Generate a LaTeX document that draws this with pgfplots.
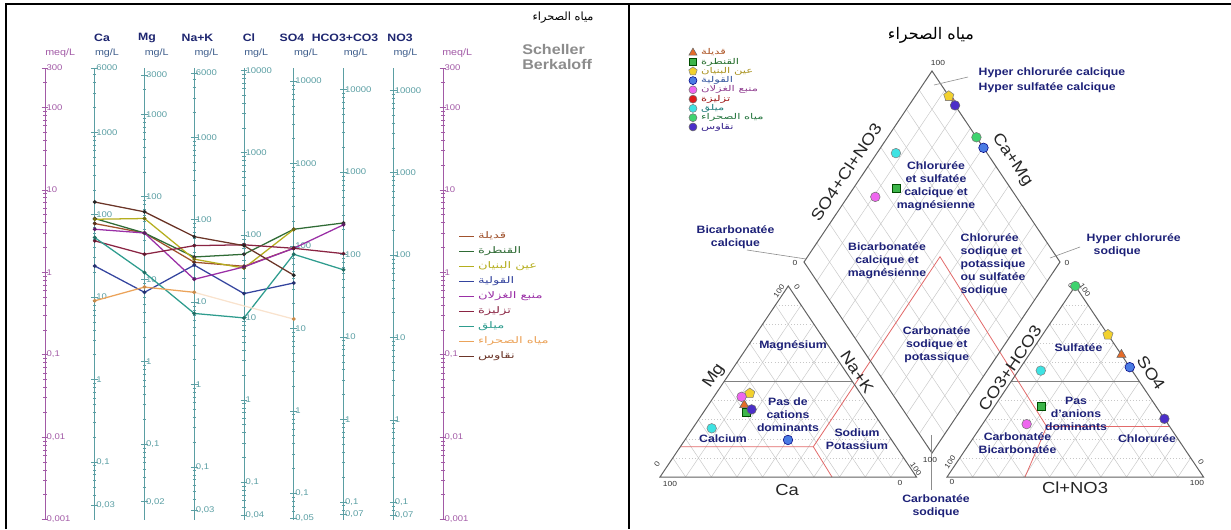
\documentclass[border=0pt]{standalone}
\usepackage{pgfplots}
\pgfplotsset{compat=1.18}
\usepackage{pgfplotstable}
\usepackage{fontspec}
\setmainfont[FakeStretch=1.15]{Liberation Sans}
\newfontfamily\arabicfont[Script=Arabic]{DejaVu Sans}
\newfontfamily\arabicwide[Script=Arabic,FakeStretch=1.45]{DejaVu Sans}
\TeXXeTstate=1
\newcommand\fs[2]{\fontsize{#1}{#2}\selectfont}

% scale colours
\definecolor{meqc}{HTML}{A25AA6}
\definecolor{colc}{HTML}{5A9EA3}
\definecolor{unitc}{HTML}{3F5E8C}
\definecolor{hdr}{HTML}{1E2670}
\definecolor{zone}{HTML}{1D2178}
% Schoeller series
\definecolor{cQ}{HTML}{A0522D}
\definecolor{cK}{HTML}{2F6B35}
\definecolor{cA}{HTML}{B5AE1E}
\definecolor{cW}{HTML}{34449E}
\definecolor{cM}{HTML}{9A2FA6}
\definecolor{cT}{HTML}{8A2443}
\definecolor{cL}{HTML}{2E9C8E}
\definecolor{cS}{HTML}{EBA35A}
\definecolor{cN}{HTML}{6B3528}
% Piper markers
\definecolor{pQ}{HTML}{E46C2A}
\definecolor{pK}{HTML}{3DB54A}
\definecolor{pA}{HTML}{F2D12E}
\definecolor{pW}{HTML}{4A7BE3}
\definecolor{pM}{HTML}{EE66EE}
\definecolor{pT}{HTML}{E01B1B}
\definecolor{pL}{HTML}{3EE3E3}
\definecolor{pS}{HTML}{3FD36F}
\definecolor{pN}{HTML}{4B2FC8}
\definecolor{limit}{HTML}{E26A6A}

% Piper samples: Mg and Na+K (% of cations), SO4 and Cl+NO3 (% of anions); -1 = not shown
\pgfplotstableread{
id mg nak so4 cl
q 37.7 14.0 64.0 36.0
k 33.7 16.6 37.3 17.9
a 43.8 13.1 74.5 25.5
w 19.4 40.2 57.5 42.5
m 42.0 10.8 27.7 17.2
t -1 -1 -1 -1
l 25.5 7.4 55.7 8.7
s -1 34.7 100.0 0.0
n 35.4 18.0 30.5 69.5
}\piperdata

\pgfplotsset{
  logminor/.style={minor ytick={0.002,0.003,0.004,0.005,0.006,0.007,0.008,0.009,
    0.02,0.03,0.04,0.05,0.06,0.07,0.08,0.09,0.2,0.3,0.4,0.5,0.6,0.7,0.8,0.9,
    2,3,4,5,6,7,8,9,20,30,40,50,60,70,80,90,200,300,400,500,600,700,800,900,
    2000,3000,4000,5000,6000,7000,8000,9000}},
  vscale/.style n args={2}{
    at={(#1*0.75pt,-519.5*0.75pt)}, anchor=south west,
    scale only axis, width=20pt, height=338.625pt,
    xmin=0, xmax=1, xtick=\empty,
    axis x line=none, axis y line=left,
    y axis line style={-, draw=#2, line width=0.6pt},
    tick align=center, major tick length=5pt, minor tick length=2.6pt,
    tick style={draw=#2, line width=0.4pt},
    yticklabel style={anchor=west, text=#2, font=\fs{6.2}{7}, xshift=2.5pt, inner sep=1pt},
    logminor,
  },
  piper/.style={scatter, only marks, point meta=explicit symbolic,
    scatter/classes={
      q={mark=triangle*, mark size=4pt, draw=black!60, fill=pQ},
      k={mark=square*, mark size=3pt, draw=green!30!black, fill=pK},
      a={mark=pentagon*, mark size=4pt, draw=black!50, fill=pA},
      w={mark=*, mark size=3.6pt, draw=blue!50!black, fill=pW},
      m={mark=*, mark size=3.6pt, draw=black!55, fill=pM},
      t={mark=*, mark size=3.6pt, draw=black!55, fill=pT},
      l={mark=*, mark size=3.6pt, draw=black!50, fill=pL},
      s={mark=*, mark size=3.6pt, draw=black!55, fill=pS},
      n={mark=*, mark size=3.6pt, draw=black!60, fill=pN}}},
}

\begin{document}
\begin{tikzpicture}[x=0.75pt,y=-0.75pt,
  pgrid/.style={draw=black!22, line width=0.35pt},
  pedge/.style={draw=black!62, line width=0.75pt},
  pred/.style={draw=limit, line width=0.6pt},
  lead/.style={draw=black!45, line width=0.45pt},
  zlab/.style={font=\bfseries\fs{8}{9.8}, text=zone, align=center},
  alab/.style={font=\fs{12}{12}, text=black!85},
  nlab/.style={font=\fs{5.5}{6}, text=black!80}]
\useasboundingbox (0,0) rectangle (1231,529);

% ---------- frame ----------
\draw[line width=1.6pt] (6,529) -- (6,4) -- (1231,4);
\draw[line width=1.6pt] (629,4) -- (629,529);

% ---------- Schoeller-Berkaloff: headings ----------
\begin{scope}[font=\bfseries\fs{8}{9}, text=hdr]
  \node at (102,38) {Ca};
  \node at (147,38) {Mg};
  \node at (197.5,38) {Na+K};
  \node at (249,38) {Cl};
  \node at (292,38) {SO4};
  \node at (345,38) {HCO3+CO3};
  \node at (400,38) {NO3};
\end{scope}
\begin{scope}[font=\fs{7}{8}, inner sep=0pt]
  \node[anchor=west, text=meqc] at (45,53) {meq/L};
  \node[anchor=west, text=meqc] at (442,53) {meq/L};
  \foreach \x in {94.75,144.5,194.25,244,293.75,343.5,393.25}
    \node[anchor=west, text=unitc] at (\x,53) {mg/L};
\end{scope}
\node[font=\arabicfont\fs{8.5}{9}] at (563,18) {\beginR مياه الصحراء\endR};
\node[anchor=north west, font=\bfseries\fs{10.5}{11.3}, text=black!45, align=left, inner sep=0pt]
  at (522,44) {Scheller\\Berkaloff};

% ---------- Schoeller-Berkaloff: vertical scales ----------
\begin{axis}[vscale={45}{meqc}, ymode=log, ymin=0.001, ymax=300,
  ytick={0.001,0.01,0.1,1,10,100,300}, yticklabels={{0,001},{0,01},{0,1},1,10,100,300}]
\end{axis}
\begin{axis}[vscale={443}{meqc}, ymode=log, ymin=0.001, ymax=300,
  ytick={0.001,0.01,0.1,1,10,100,300}, yticklabels={{0,001},{0,01},{0,1},1,10,100,300}]
\end{axis}
% Ca (20.04 mg/meq)
\begin{axis}[vscale={94.75}{colc}, ymode=log, ymin=0.02004, ymax=6012,
  ytick={0.03,0.1,1,10,100,1000,6000}, yticklabels={{0,03},{0,1},1,10,100,1000,6000}]
\end{axis}
% Mg (12.15)
\begin{axis}[vscale={144.5}{colc}, ymode=log, ymin=0.01215, ymax=3645,
  ytick={0.02,0.1,1,10,100,1000,3000}, yticklabels={{0,02},{0,1},1,10,100,1000,3000}]
\end{axis}
% Na+K (23.0)
\begin{axis}[vscale={194.25}{colc}, ymode=log, ymin=0.023, ymax=6900,
  ytick={0.03,0.1,1,10,100,1000,6000}, yticklabels={{0,03},{0,1},1,10,100,1000,6000}]
\end{axis}
% Cl (35.45)
\begin{axis}[vscale={244}{colc}, ymode=log, ymin=0.03545, ymax=10635,
  ytick={0.04,0.1,1,10,100,1000,10000}, yticklabels={{0,04},{0,1},1,10,100,1000,10000}]
\end{axis}
% SO4 (48.03)
\begin{axis}[vscale={293.75}{colc}, ymode=log, ymin=0.04803, ymax=14409,
  ytick={0.05,0.1,1,10,100,1000,10000}, yticklabels={{0,05},{0,1},1,10,100,1000,10000}]
\end{axis}
% HCO3+CO3 (61.02)
\begin{axis}[vscale={343.5}{colc}, ymode=log, ymin=0.06102, ymax=18306,
  ytick={0.07,0.1,1,10,100,1000,10000}, yticklabels={{0,07},{0,1},1,10,100,1000,10000}]
\end{axis}
% NO3 (62.0)
\begin{axis}[vscale={393.25}{colc}, ymode=log, ymin=0.062, ymax=18600,
  ytick={0.07,0.1,1,10,100,1000,10000}, yticklabels={{0,07},{0,1},1,10,100,1000,10000}]
\end{axis}

% ---------- Schoeller-Berkaloff: samples (meq/L) ----------
% columns: 1 Ca, 2 Mg, 3 Na+K, 4 Cl, 5 SO4, 6 HCO3+CO3
\begin{axis}[at={(45*0.75pt,-519.5*0.75pt)}, anchor=south west,
  scale only axis, width=298.5pt, height=338.625pt,
  xmin=0, xmax=8, ymode=log, ymin=0.001, ymax=300,
  hide axis, clip=false,
  every axis plot/.append style={line width=0.95pt, mark=*, mark size=0.9pt},
  legend style={at={(axis cs:8.31,3.25)}, anchor=north west, draw=none, fill=none,
    font=\arabicwide\fs{6.8}{7.5}, row sep=2.5pt, column sep=2pt, inner sep=0pt, nodes={inner sep=1pt}},
  legend cell align=left,
  legend image code/.code={\draw[#1, line width=0.5pt] (0pt,0pt) -- (11pt,0pt);}]
\addplot[cQ, mark options={fill=cQ!60!black, draw=cQ!60!black}]
  coordinates {(1,3.89)(2,2.99)(3,1.32)(4,1.18)(5,1.95)};
\addlegendentry{\strut\textcolor{cQ}{\beginR قديلة\endR}}
\addplot[cK, mark options={fill=black!80, draw=black!80}]
  coordinates {(1,4.48)(2,2.99)(3,1.53)(4,1.65)(5,3.32)(6,3.96)};
\addlegendentry{\strut\textcolor{cK}{\beginR القنطرة\endR}}
\addplot[cA, mark options={fill=cA!60!black, draw=cA!60!black}]
  coordinates {(1,4.39)(2,4.48)(3,1.44)(4,1.12)(5,3.30)};
\addlegendentry{\strut\textcolor{cA}{\beginR عين البنيان\endR}}
\addplot[cW, mark options={fill=cW!70!black, draw=cW!70!black}]
  coordinates {(1,1.19)(2,0.57)(3,1.22)(4,0.55)(5,0.74)};
\addlegendentry{\strut\textcolor{cW}{\beginR القولية\endR}}
\addplot[cM, mark options={fill=cM!60!black, draw=cM!60!black}]
  coordinates {(1,3.32)(2,2.99)(3,0.82)(4,1.16)(5,1.95)(6,3.76)};
\addlegendentry{\strut\textcolor{cM}{\beginR منبع الغزلان\endR}}
\addplot[cT, mark options={fill=cT!70!black, draw=cT!70!black}]
  coordinates {(1,2.40)(2,1.65)(3,2.10)(4,2.15)(5,1.95)(6,1.68)};
\addlegendentry{\strut\textcolor{cT}{\beginR تزليزة\endR}}
\addplot[cL, mark options={fill=cL!70!black, draw=cL!70!black}]
  coordinates {(1,2.63)(2,0.99)(3,0.316)(4,0.279)(5,1.65)(6,1.07)};
\addlegendentry{\strut\textcolor{cL}{\beginR ميلق\endR}}
\addplot[cS, mark options={fill=cS!85!black, draw=cS!85!black}]
  coordinates {(1,0.45)(2,0.66)(3,0.57)};
\addlegendentry{\strut\textcolor{cS}{\beginR مياه الصحراء\endR}}
\addplot[cN, mark options={fill=black!85, draw=black!85}]
  coordinates {(1,7.1)(2,5.4)(3,2.7)(4,2.1)(5,0.92)};
\addlegendentry{\strut\textcolor{cN}{\beginR نقاوس\endR}}
\addplot[cS!30, forget plot, mark=none] coordinates {(3,0.57)(4,0.39)(5,0.27)};
\addplot[cS, forget plot, only marks, mark options={fill=cS!85!black, draw=cS!85!black}]
  coordinates {(5,0.27)};
\end{axis}

% ---------- Piper: grids ----------
\foreach \i in {1,...,9}{
  % cation triangle
  \draw[pgrid, dotted] ({660+12.825*\i},{477-19.1*\i}) -- ({916.5-12.825*\i},{477-19.1*\i});
  \draw[pgrid] ({660+25.65*\i},477) -- ({660+25.65*\i+12.825*(10-\i)},{477-19.1*(10-\i)});
  \draw[pgrid] ({660+25.65*\i},477) -- ({660+12.825*\i},{477-19.1*\i});
  % anion triangle
  \draw[pgrid, dotted] ({947+12.825*\i},{477-19.1*\i}) -- ({1203.5-12.825*\i},{477-19.1*\i});
  \draw[pgrid] ({947+25.65*\i},477) -- ({947+25.65*\i+12.825*(10-\i)},{477-19.1*(10-\i)});
  \draw[pgrid] ({947+25.65*\i},477) -- ({947+12.825*\i},{477-19.1*\i});
  % diamond
  \draw[pgrid] ({932+12.8*\i},{453-19.1*\i}) -- ({804+12.8*\i},{262-19.1*\i});
  \draw[pgrid] ({932-12.8*\i},{453-19.1*\i}) -- ({1060-12.8*\i},{262-19.1*\i});
}
% 50 % lines
\draw[draw=black!50, line width=0.5pt] (724.1,381.5) -- (852.4,381.5);
\draw[draw=black!50, line width=0.5pt] (1011.1,381.5) -- (1139.4,381.5);
% classification limits
\draw[pred] (680.3,446.7) -- (813.3,446.7) -- (832,477);
\draw[pred] (813.3,446.7) -- (940,256.7) -- (1046.7,426.7) -- (1025,477);
\draw[pred] (1046.7,426.7) -- (1169.7,426.7);
% outlines
\draw[pedge] (660,477) -- (916.5,477) -- (788.25,286) -- cycle;
\draw[pedge] (947,477) -- (1203.5,477) -- (1075.25,286) -- cycle;
\draw[pedge] (932,453) -- (1060,262) -- (932,71) -- (804,262) -- cycle;
% leaders
\draw[lead] (968,77) -- (934,85);
\draw[lead] (1080,247) -- (1050,258);
\draw[lead] (747,250) -- (806,259);
\draw[lead] (931.7,435) -- (931.7,490);

% ---------- Piper: titles and labels ----------
\node[font=\arabicfont\fs{12}{13}] at (931,35) {\beginR مياه الصحراء\endR};
\node[alab, rotate=56] at (714,376) {Mg};
\node[alab, rotate=-56] at (857,372) {Na+K};
\node[alab] at (787,490) {Ca};
\node[alab, rotate=56] at (846,172) {SO4+Cl+NO3};
\node[alab, rotate=-56] at (1012,160) {Ca+Mg};
\node[alab, rotate=56] at (1010,368) {CO3+HCO3};
\node[alab, rotate=-56] at (1151,373) {SO4};
\node[alab] at (1075,488) {Cl+NO3};

\node[nlab] at (670,484) {100};
\node[nlab] at (900,483) {0};
\node[nlab, rotate=56] at (657,464) {0};
\node[nlab, rotate=56] at (779,291) {100};
\node[nlab, rotate=-56] at (797,287) {0};
\node[nlab, rotate=-56] at (916,469) {100};
\node[nlab] at (952,482) {0};
\node[nlab] at (1197,483) {100};
\node[nlab, rotate=56] at (950,462) {100};
\node[nlab, rotate=56] at (1071,286) {0};
\node[nlab, rotate=-56] at (1085,290) {100};
\node[nlab, rotate=-56] at (1201,462) {0};
\node[nlab] at (938,63) {100};
\node[nlab] at (795,263) {0};
\node[nlab] at (1067,263) {0};
\node[nlab] at (930,460) {100};

\node[zlab] at (793,346) {Magnésium};
\node[zlab] at (788,415) {Pas de\\cations\\dominants};
\node[zlab] at (723,439) {Calcium};
\node[zlab] at (857,439) {Sodium\\Potassium};
\node[zlab] at (1078.5,348) {Sulfatée};
\node[zlab] at (1076,414) {Pas\\d'anions\\dominants};
\node[zlab] at (1017.5,443.5) {Carbonatée\\Bicarbonatée};
\node[zlab] at (1147,439) {Chlorurée};
\node[zlab] at (936,186) {Chlorurée\\et sulfatée\\calcique et\\magnésienne};
\node[zlab] at (887,260.5) {Bicarbonatée\\calcique et\\magnésienne};
\node[zlab, align=left, anchor=west] at (956,264.5) {Chlorurée\\sodique et\\potassique\\ou sulfatée\\sodique};
\node[zlab] at (936.7,345) {Carbonatée\\sodique et\\potassique};
\node[zlab] at (936,506.5) {Carbonatée\\sodique};
\node[zlab] at (735.5,237.5) {Bicarbonatée\\calcique};
\node[zlab, anchor=west, font=\bfseries\fs{8}{11}, align=left] at (974,80) {Hyper chlorurée calcique\\Hyper sulfatée calcique};
\node[zlab, anchor=west] at (1082,238.5) {Hyper chlorurée};
\node[zlab, anchor=west] at (1089,252) {sodique};

% ---------- Piper: samples ----------
\begin{axis}[at={(0pt,-396.75pt)}, anchor=south west, scale only axis,
  width=923.25pt, height=396.75pt, xmin=0, xmax=1231, ymin=0, ymax=529, y dir=reverse,
  hide axis, clip=false,
  legend style={at={(axis cs:688.5,47.8)}, anchor=north west, draw=none, fill=none,
    font=\arabicwide\fs{6}{6.3}, row sep=0pt, column sep=2.5pt, inner sep=0pt, nodes={inner sep=0.45pt}},
  legend cell align=left,
  legend image code/.code={\draw[#1] plot coordinates {(3pt,0pt)};}]
% cation triangle
\addplot[piper, forget plot, restrict expr to domain={\thisrow{mg}}{0:100}]
  table[x expr={660+2.565*\thisrow{nak}+1.2825*\thisrow{mg}}, y expr={477-1.91*\thisrow{mg}}, meta=id] {\piperdata};
% anion triangle
\addplot[piper, forget plot, restrict expr to domain={\thisrow{so4}}{0:100}]
  table[x expr={947+2.565*\thisrow{cl}+1.2825*\thisrow{so4}}, y expr={477-1.91*\thisrow{so4}}, meta=id] {\piperdata};
% diamond: (SO4+Cl, Ca+Mg)
\addplot[piper, forget plot, restrict expr to domain={\thisrow{so4}}{0:100}]
  table[x expr={932+1.28*(\thisrow{so4}+\thisrow{cl}-100+\thisrow{nak})},
        y expr={453-1.91*(\thisrow{so4}+\thisrow{cl}+100-\thisrow{nak})}, meta=id] {\piperdata};
\addlegendimage{only marks, mark=triangle*, mark size=3.5pt, draw=black!60, fill=pQ}
\addlegendentry{\strut\textcolor{pQ!75!black}{\beginR قديلة\endR}}
\addlegendimage{only marks, mark=square*, mark size=2.6pt, draw=green!30!black, fill=pK}
\addlegendentry{\strut\textcolor{pK!60!black}{\beginR القنطرة\endR}}
\addlegendimage{only marks, mark=pentagon*, mark size=3.3pt, draw=black!50, fill=pA}
\addlegendentry{\strut\textcolor{pA!70!black}{\beginR عين البنيان\endR}}
\addlegendimage{only marks, mark=*, mark size=3pt, draw=blue!50!black, fill=pW}
\addlegendentry{\strut\textcolor{pW!70!black}{\beginR القولية\endR}}
\addlegendimage{only marks, mark=*, mark size=3pt, draw=black!55, fill=pM}
\addlegendentry{\strut\textcolor{pM!60!black}{\beginR منبع الغزلان\endR}}
\addlegendimage{only marks, mark=*, mark size=3pt, draw=black!55, fill=pT}
\addlegendentry{\strut\textcolor{pT!70!black}{\beginR تزليزة\endR}}
\addlegendimage{only marks, mark=*, mark size=3pt, draw=black!50, fill=pL}
\addlegendentry{\strut\textcolor{pL!55!black}{\beginR ميلق\endR}}
\addlegendimage{only marks, mark=*, mark size=3pt, draw=black!55, fill=pS}
\addlegendentry{\strut\textcolor{pS!55!black}{\beginR مياه الصحراء\endR}}
\addlegendimage{only marks, mark=*, mark size=3pt, draw=black!60, fill=pN}
\addlegendentry{\strut\textcolor{pN!70!black}{\beginR نقاوس\endR}}
\end{axis}
\end{tikzpicture}
\end{document}
